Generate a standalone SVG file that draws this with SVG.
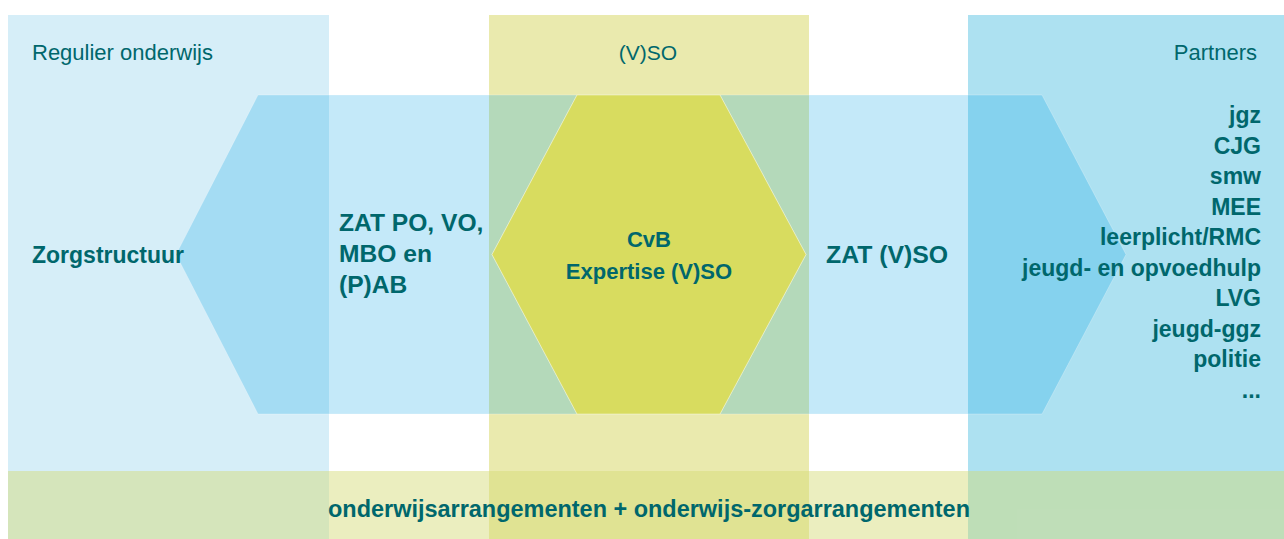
<svg xmlns="http://www.w3.org/2000/svg" width="1284" height="539" viewBox="0 0 1284 539">
<style>
text{font-family:"Liberation Sans",Arial,sans-serif;fill:#00676c}
.r{font-weight:400;font-size:22px}
.b{font-weight:700}
.arrow{fill:#009fe3;fill-opacity:0.23;stroke:#ffffff;stroke-opacity:0.25;stroke-width:1}
.end{text-anchor:end}
.mid{text-anchor:middle}
</style>
<rect width="1284" height="539" fill="#ffffff"/>
<g id="col-regulier">
<rect x="8" y="15" width="321" height="524" fill="#d6eef8"/>
<text class="r" x="32" y="60">Regulier onderwijs</text>
</g>
<g id="col-vso">
<rect x="489" y="15" width="320" height="524" fill="#eaeaae"/>
<text class="r mid" x="648" y="60" style="font-size:21px">(V)SO</text>
</g>
<g id="col-partners">
<rect x="968" y="15" width="316" height="524" fill="#ade1f1"/>
<text class="r end" x="1257" y="60">Partners</text>
</g>
<g id="band">
<rect x="8" y="471" width="1276" height="68" fill="#d4da74" fill-opacity="0.46"/>
<text class="b" x="328" y="517" style="font-size:23.5px" textLength="642" lengthAdjust="spacingAndGlyphs">onderwijsarrangementen + onderwijs-zorgarrangementen</text>
</g>
<g id="arrow-left">
<polygon class="arrow" points="258,95 577,95 492,254.5 577,414 258,414 176,254.5"/>
<text class="b" x="32" y="263" style="font-size:23px">Zorgstructuur</text>
<text class="b" x="339" y="231" style="font-size:24.6px">ZAT PO, VO,</text>
<text class="b" x="339" y="262" style="font-size:24.6px">MBO en</text>
<text class="b" x="339" y="293" style="font-size:24.6px">(P)AB</text>
</g>
<g id="arrow-right">
<polygon class="arrow" points="720,95 1042,95 1126,254.5 1042,414 720,414 806,254.5"/>
<text class="b" x="826" y="263" style="font-size:24.8px">ZAT (V)SO</text>
</g>
<g id="hex-cvb">
<polygon points="577,95 720,95 806,254.5 720,414 577,414 492,254.5" fill="#d8dc5f" stroke="#ffffff" stroke-opacity="0.4" stroke-width="1"/>
<text class="b mid" x="649" y="247" style="font-size:22px">CvB</text>
<text class="b mid" x="649" y="279" style="font-size:22px">Expertise (V)SO</text>
</g>
<g id="partners-list" class="b end" style="font-size:23px">
<text class="b end" x="1261" y="123">jgz</text>
<text class="b end" x="1261" y="153.5">CJG</text>
<text class="b end" x="1261" y="184">smw</text>
<text class="b end" x="1261" y="214.5">MEE</text>
<text class="b end" x="1261" y="245">leerplicht/RMC</text>
<text class="b end" x="1261" y="275.5">jeugd- en opvoedhulp</text>
<text class="b end" x="1261" y="306">LVG</text>
<text class="b end" x="1261" y="336.5">jeugd-ggz</text>
<text class="b end" x="1261" y="367">politie</text>
<text class="b end" x="1261" y="397.5">...</text>
</g>
<g id="connectors"/>
</svg>
